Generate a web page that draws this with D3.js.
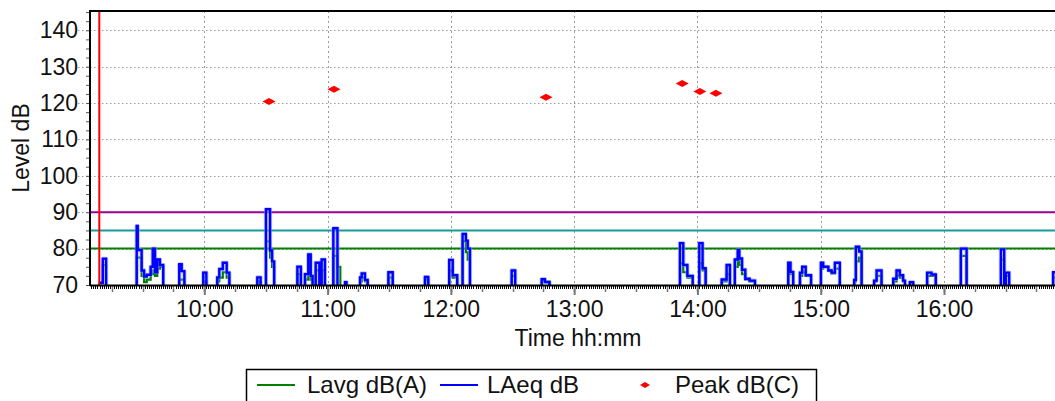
<!DOCTYPE html>
<html>
<head>
<meta charset="utf-8">
<script src="https://cdn.jsdelivr.net/npm/d3@7"></script>
<style>
  body { margin: 0; background: #fff; }
  svg { display: block; font-family: "Liberation Sans", Arial, sans-serif; }
</style>
</head>
<body>
<div id="chart"></div>
<script>
// times are minutes after 09:00, levels in dB. 60 = below the bottom of the scale
var laeqSteps = [
  [9.0,70.6],[10.6,77.2],[12.2,60],
  [27.1,86.2],[27.6,79.6],[29.5,74],[30.7,72.3],[32.0,72.8],[33.9,75],[34.9,80],[36.0,73.5],[37.1,77],[38.4,75.5],[40.0,60],
  [47.8,75.7],[49.0,73.8],[50.3,60],
  [59.5,73.4],[61.0,60],
  [66.3,72.1],[67.3,74.4],[69.0,76.1],[70.9,73.4],[72.2,60],
  [85.8,72.1],[87.4,60],
  [90.0,90.8],[92.0,79.5],[93.0,76.5],[94.0,60],
  [105.3,75],[107.0,60],
  [109.0,73],[110.6,78.4],[111.8,72.5],[112.7,60],
  [114.2,76.1],[116.0,60],
  [117.1,77],[118.7,60],
  [122.8,85.6],[124.8,60],
  [128.5,70.8],[129.2,60],
  [135.8,72.1],[136.6,73.2],[138.2,71.4],[139.5,60],
  [149.6,73.5],[151.7,60],
  [167.4,72.2],[169.0,60],
  [179.2,76.9],[180.9,72.7],[183.1,60],
  [185.7,84],[187.3,82.2],[188.2,80],[189.3,60],
  [209.6,74],[211.3,60],
  [224.2,71.6],[225.8,70.8],[228.0,60],
  [291.5,81.5],[293.1,75.5],[295.1,72.5],[297.7,60],
  [300.9,81.5],[302.5,74.6],[304.0,60],
  [311.8,71.5],[314.2,75.5],[315.8,60],
  [318.2,77],[319.6,79.6],[320.4,77.3],[321.7,74.2],[323.3,71.7],[325.4,71.2],[328.0,60],
  [344.2,76.1],[345.3,73.6],[346.6,60],
  [349.9,73.4],[351.0,75],[352.7,72.7],[355.3,60],
  [360.1,76.1],[361.2,75],[363.7,74],[365.3,73.4],[366.9,76.1],[369.3,60],
  [376.3,71.4],[377.1,80.5],[378.7,79.2],[379.9,60],
  [386.0,71.2],[387.2,74],[389.6,60],
  [395.3,71.7],[396.9,74],[398.5,72.7],[400.1,71.2],[401.0,60],
  [403.4,70.8],[405.0,60],
  [411.8,73.4],[413.9,72.9],[416.0,60],
  [428.2,80],[431.0,60],
  [447.7,79.8],[449.3,60],
  [450.1,73.4],[451.7,60],
  [473.1,73.5],[478,73.5]
];

var lavgSteps = [
  [8.5,70.5],[10.6,75.5],[12.2,60],
  [27.1,77.5],[29.5,72.5],[30.7,70.8],[32.0,71.5],[33.9,74],[34.9,73],[36.0,72.5],[37.1,74.5],[38.4,75],[40.0,60],
  [47.8,71.5],[50.3,60],
  [59.5,71],[61.0,60],
  [66.3,71],[67.3,72],[69.0,73.5],[70.9,72],[72.2,60],
  [85.8,71],[87.4,60],
  [90.0,82],[92.0,77.5],[93.0,75],[94.0,60],
  [105.3,73],[107.0,60],
  [109.0,71.5],[110.6,73.5],[111.8,71.5],[112.7,60],
  [114.2,74],[116.0,60],
  [117.1,74],[118.7,60],
  [122.8,78],[124.8,75],[126.2,60],
  [135.8,71],[136.6,72],[138.2,71],[139.5,60],
  [149.6,72],[151.7,60],
  [167.4,71.5],[169.0,60],
  [179.2,74],[180.9,72],[183.1,60],
  [185.7,82],[187.3,79],[188.2,77],[189.3,60],
  [209.6,72.5],[211.3,60],
  [224.2,71],[228.0,60],
  [291.5,76],[293.1,73.5],[295.1,72],[297.7,60],
  [300.9,76],[302.5,74],[304.0,60],
  [311.8,71],[314.2,73],[315.8,60],
  [318.2,75],[319.6,77.5],[320.4,75.5],[321.7,73],[323.3,71.5],[325.4,71],[328.0,60],
  [344.2,74],[345.3,73],[346.6,60],
  [349.9,72.5],[351.0,73.5],[352.7,72.5],[355.3,60],
  [360.1,74.5],[361.2,75],[363.7,74],[365.3,73.2],[366.9,74.5],[369.3,60],
  [376.3,71],[377.1,76.5],[378.7,77.5],[379.9,60],
  [386.0,71],[387.2,72.5],[389.6,60],
  [395.3,71],[396.9,72.5],[398.5,72],[400.1,71],[401.0,60],
  [403.4,70.5],[405.0,60],
  [411.8,72.5],[413.9,72.5],[416.0,60],
  [428.2,78],[431.0,60],
  [447.7,77],[449.3,60],
  [450.1,72.5],[451.7,60],
  [473.1,72],[478,72]
];

var peakTimes = [91.5, 123.1, 226.3, 292.6, 301.2, 309.0];
var peakValues = [120.4, 123.8, 121.6, 125.4, 123.2, 122.7];

var limitLines = [
  {level: 90, color: '#990099'},
  {level: 85, color: '#179c9c'},
  {level: 80, color: '#008000'}
];
var cursorTime = 8.9;
var yTicks = [70, 80, 90, 100, 110, 120, 130, 140];

var W = 1055, H = 401;
var plotLeft = 90, plotTop = 11, plotBottom = 285, plotRight = 1056;
var day = new Date(2020, 0, 1, 9, 0, 0);
function toDate(m) { return new Date(day.getTime() + m * 60000); }

var x = d3.scaleTime()
  .domain([toDate(4.37), toDate(4.37 + (plotRight - plotLeft) / 2.0547)])
  .range([plotLeft, plotRight]);
var y = d3.scaleLinear()
  .domain([70, 145.3])
  .range([plotBottom, plotTop]);

var svg = d3.select('#chart').append('svg')
  .attr('width', W)
  .attr('height', H);

svg.append('defs').append('clipPath').attr('id', 'plot')
  .append('rect')
  .attr('x', plotLeft).attr('y', plotTop)
  .attr('width', plotRight - plotLeft).attr('height', plotBottom - plotTop);

// grid
var hours = d3.timeHour.range(x.domain()[0], x.domain()[1]);
svg.append('g').selectAll('line')
  .data(hours).enter().append('line')
  .attr('x1', function(d){ return Math.round(x(d)) + 0.5; })
  .attr('x2', function(d){ return Math.round(x(d)) + 0.5; })
  .attr('y1', plotTop).attr('y2', plotBottom)
  .attr('stroke', '#9a9a9a')
  .attr('stroke-dasharray', '2,3');

svg.append('g').selectAll('line')
  .data(yTicks.slice(1)).enter().append('line')
  .attr('x1', 78).attr('x2', plotRight)
  .attr('y1', function(d){ return Math.round(y(d)) + 0.5; })
  .attr('y2', function(d){ return Math.round(y(d)) + 0.5; })
  .attr('stroke', '#9a9a9a')
  .attr('stroke-dasharray', '1.5,2.5');

// limit lines
svg.append('g').selectAll('line')
  .data(limitLines).enter().append('line')
  .attr('x1', plotLeft).attr('x2', plotRight)
  .attr('y1', function(d){ return y(d.level); })
  .attr('y2', function(d){ return y(d.level); })
  .attr('stroke', function(d){ return d.color; })
  .attr('stroke-width', 2);

// traces
var stepLine = d3.line()
  .x(function(d){ return x(toDate(d[0])); })
  .y(function(d){ return y(d[1]); })
  .curve(d3.curveStepAfter);

var traces = svg.append('g').attr('clip-path', 'url(#plot)');

traces.append('path')
  .datum(lavgSteps)
  .attr('d', stepLine)
  .attr('fill', 'none')
  .attr('stroke', '#008000')
  .attr('stroke-width', 2.2);

traces.append('path')
  .datum(laeqSteps)
  .attr('d', stepLine)
  .attr('fill', 'none')
  .attr('stroke', '#8c9cff')
  .attr('stroke-opacity', 0.6)
  .attr('stroke-width', 4.2)
  .attr('stroke-linejoin', 'round');

traces.append('path')
  .datum(laeqSteps)
  .attr('d', stepLine)
  .attr('fill', 'none')
  .attr('stroke', '#0000ff')
  .attr('stroke-width', 2.4);

// peaks
svg.append('g').selectAll('path')
  .data(peakTimes).enter().append('path')
  .attr('transform', function(d, i){ return 'translate(' + x(toDate(d)) + ',' + y(peakValues[i]) + ')'; })
  .attr('d', 'M-6.5,0L0,-3.5L6.5,0L0,3.5Z')
  .attr('fill', '#ff0000');

// cursor
svg.append('line')
  .attr('x1', x(toDate(cursorTime))).attr('x2', x(toDate(cursorTime)))
  .attr('y1', plotTop).attr('y2', plotBottom)
  .attr('stroke', '#ff0000')
  .attr('stroke-width', 2);

// y axis
var yMinor = svg.append('g')
  .attr('transform', 'translate(' + plotLeft + ',0)')
  .call(d3.axisLeft(y).tickValues(d3.range(70, 145.1, 2.5)).tickSize(4).tickFormat(''));
yMinor.select('.domain').remove();
yMinor.selectAll('line').attr('stroke', '#555');

var yAxis = svg.append('g')
  .attr('transform', 'translate(' + plotLeft + ',0)')
  .call(d3.axisLeft(y).tickValues(yTicks).tickSize(0).tickPadding(12));
yAxis.select('.domain').remove();
yAxis.selectAll('text')
  .attr('font-size', 23)
  .attr('font-family', '"Liberation Sans", Arial, sans-serif')
  .attr('fill', '#111');

// x axis: minute, quarter and hour ticks
var minutes = d3.timeMinute.range(x.domain()[0], x.domain()[1]);
svg.append('g').selectAll('line')
  .data(minutes).enter().append('line')
  .attr('x1', function(d){ return Math.round(x(d)) + 0.5; })
  .attr('x2', function(d){ return Math.round(x(d)) + 0.5; })
  .attr('y1', plotBottom).attr('y2', plotBottom + 4)
  .attr('stroke', '#000');

var quarters = d3.timeMinute.every(15).range(x.domain()[0], x.domain()[1]);
svg.append('g').selectAll('line')
  .data(quarters).enter().append('line')
  .attr('x1', function(d){ return Math.round(x(d)) + 0.5; })
  .attr('x2', function(d){ return Math.round(x(d)) + 0.5; })
  .attr('y1', plotBottom).attr('y2', plotBottom + 7)
  .attr('stroke', '#777')
  .attr('stroke-width', 1.5);

var xAxis = svg.append('g')
  .attr('transform', 'translate(0,' + plotBottom + ')')
  .call(d3.axisBottom(x).ticks(d3.timeHour.every(1)).tickSize(10).tickPadding(6)
    .tickFormat(d3.timeFormat('%H:%M')));
xAxis.select('.domain').remove();
xAxis.selectAll('line').attr('stroke', '#777').attr('stroke-width', 2);
xAxis.selectAll('text')
  .attr('font-size', 23)
  .attr('font-family', '"Liberation Sans", Arial, sans-serif')
  .attr('fill', '#111');

// frame
svg.append('line')
  .attr('x1', plotLeft).attr('x2', plotRight)
  .attr('y1', plotBottom + 0.5).attr('y2', plotBottom + 0.5)
  .attr('stroke', '#000').attr('stroke-width', 2);
svg.append('line')
  .attr('x1', plotLeft).attr('x2', plotLeft)
  .attr('y1', plotTop).attr('y2', plotBottom + 1)
  .attr('stroke', '#000').attr('stroke-width', 2);
svg.append('line')
  .attr('x1', plotLeft - 1).attr('x2', plotRight)
  .attr('y1', plotTop).attr('y2', plotTop)
  .attr('stroke', '#000').attr('stroke-width', 2);

// axis titles
svg.append('text')
  .attr('x', 578)
  .attr('y', 346)
  .attr('text-anchor', 'middle')
  .attr('font-size', 23)
  .attr('fill', '#111')
  .text('Time hh:mm');

svg.append('text')
  .attr('transform', 'rotate(-90)')
  .attr('x', -(plotTop + plotBottom) / 2)
  .attr('y', 29)
  .attr('text-anchor', 'middle')
  .attr('font-size', 23)
  .attr('fill', '#111')
  .text('Level dB');

// legend
var legend = svg.append('g');
legend.append('rect')
  .attr('x', 246.5).attr('y', 369.5)
  .attr('width', 570).attr('height', 50)
  .attr('fill', 'none')
  .attr('stroke', '#000')
  .attr('stroke-width', 1.5);

var legendItems = [
  {name: 'Lavg dB(A)', type: 'line', color: '#008000', mark: 257, text: 307},
  {name: 'LAeq dB', type: 'line', color: '#0000ff', mark: 440, text: 487},
  {name: 'Peak dB(C)', type: 'dot', color: '#ff0000', mark: 645, text: 675}
];
legendItems.forEach(function(d){
  if (d.type == 'line') {
    legend.append('line')
      .attr('x1', d.mark).attr('x2', d.mark + 38)
      .attr('y1', 385).attr('y2', 385)
      .attr('stroke', d.color)
      .attr('stroke-width', 2);
  } else {
    legend.append('path')
      .attr('transform', 'translate(' + d.mark + ',385)')
      .attr('d', 'M-5,0L0,-3L5,0L0,3Z')
      .attr('fill', d.color);
  }
  legend.append('text')
    .attr('x', d.text)
    .attr('y', 393)
    .attr('font-size', 24)
    .attr('fill', '#111')
    .text(d.name);
});
</script>
</body>
</html>
